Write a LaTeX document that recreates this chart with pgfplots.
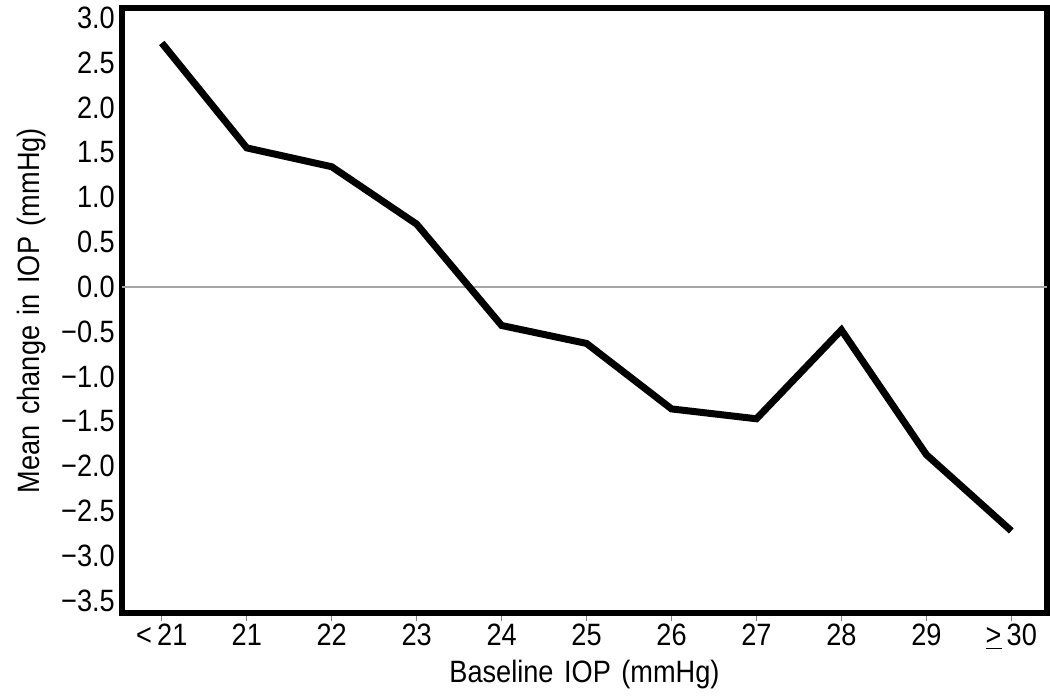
\documentclass[border=0pt]{standalone}
\usepackage{pgfplots}
\pgfplotsset{compat=1.18}
\usepackage{fontspec}
\setmainfont[FakeStretch=0.88]{Liberation Sans}
\newcommand{\wsp}{\ \hspace{1.5bp}}
\begin{document}
\begin{tikzpicture}[x=1bp,y=1bp]
\begin{axis}[
  name=ax,
  scale only axis,
  width=463bp, height=303bp,
  xmin=-0.47, xmax=10.42,
  ymin=-3.64, ymax=3.11,
  axis line style={line width=3bp},
  xtick={0,1,2,3,4,5,6,7,8,9,10},
  xticklabels={{<\,21},21,22,23,24,25,26,27,28,29,{\underline{>}\,30}},
  ytick={-3.5,-3,-2.5,-2,-1.5,-1,-0.5,0,0.5,1,1.5,2,2.5,3},
  yticklabels={−3.5,−3.0,−2.5,−2.0,−1.5,−1.0,−0.5,0.0,0.5,1.0,1.5,2.0,2.5,3.0},
  tick label style={font=\fontsize{15.5}{18}\selectfont},
  label style={font=\fontsize{15.5}{18}\selectfont},
  x tick label style={yshift=2bp},
  y tick label style={xshift=4bp},
  xtick pos=bottom, ytick pos=left,
  tick align=outside,
  major tick length=4bp,
  x tick style={gray, line width=0.6bp},
  y tick style={draw=none},
  xlabel={Baseline\wsp IOP\wsp (mmHg)},
  ylabel={Mean\wsp change\wsp in\wsp IOP\wsp (mmHg)},
  xlabel style={yshift=2bp},
  ylabel style={yshift=1bp},
  clip=false,
]
\draw[gray!70, line width=0.7bp] (axis cs:-0.47,0) -- (axis cs:10.42,0);
\addplot[black, line width=3.5bp, mark=none] coordinates {
(0,2.72) (1,1.55) (2,1.34) (3,0.70) (4,-0.43) (5,-0.63) (6,-1.36) (7,-1.47) (8,-0.48) (9,-1.87) (10,-2.72)
};
\end{axis}
\path ([xshift=-61bp,yshift=-43bp]ax.south west) rectangle ([xshift=1bp,yshift=4bp]ax.north east);
\end{tikzpicture}
\end{document}
